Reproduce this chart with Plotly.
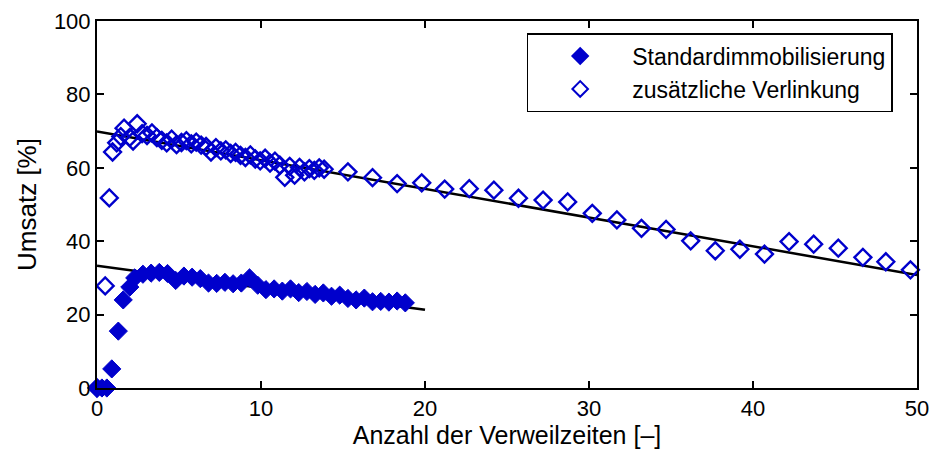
import plotly.graph_objects as go

# Standardimmobilisierung (filled diamonds)
std_x = [0.0, 0.3, 0.6, 0.9, 1.3, 1.6, 2.0, 2.3, 2.8, 3.3, 3.8, 4.3, 4.8, 5.3, 5.8, 6.3, 6.8,
         7.3, 7.8, 8.3, 8.8, 9.3, 9.8, 10.3, 10.8, 11.3, 11.8, 12.3, 12.8, 13.3, 13.8,
         14.3, 14.8, 15.3, 15.8, 16.3, 16.8, 17.3, 17.8, 18.3, 18.8]
std_y = [0.0, 0.0, 0.0, 5.2, 15.5, 24.0, 27.5, 30.0, 31.0, 31.3, 31.5, 31.2, 29.3, 30.5, 30.2,
         29.8, 28.6, 28.5, 28.8, 28.4, 28.6, 30.0, 28.0, 26.8, 27.0, 26.4, 27.0, 26.0, 26.3,
         25.5, 25.9, 25.0, 25.3, 24.4, 24.0, 24.5, 23.5, 23.6, 23.4, 23.7, 23.2]

# zusätzliche Verlinkung (open diamonds)
vl_x = [0.0, 0.5, 0.75, 0.95, 1.2, 1.45, 1.65, 2.0, 2.2, 2.45, 2.75, 3.05, 3.35, 3.65, 3.95,
        4.25, 4.55, 4.85, 5.15, 5.45, 5.75, 6.05, 6.35, 6.65, 6.95, 7.25, 7.55, 7.85, 8.15,
        8.45, 8.75, 9.05, 9.35, 9.65, 9.95, 10.25, 10.55, 10.85, 11.15, 11.45, 11.75, 12.05,
        12.35, 12.65, 12.95, 13.25, 13.55, 13.85,
        15.3, 16.8, 18.3, 19.8, 21.2, 22.7, 24.2, 25.7, 27.2, 28.7, 30.2, 31.7, 33.2, 34.7,
        36.2, 37.7, 39.2, 40.7, 42.2, 43.7, 45.2, 46.7, 48.1, 49.6]
vl_y = [0.0, 27.8, 51.8, 64.3, 66.8, 68.5, 70.8, 68.3, 67.3, 72.0, 69.3, 68.8, 69.5, 68.2, 67.5,
        66.8, 67.8, 66.3, 66.9, 67.4, 66.5, 67.0, 66.2, 65.8, 64.3, 65.5, 64.6, 64.9, 63.9,
        64.2, 63.4, 62.8, 63.5, 62.4, 61.9, 62.6, 61.3, 61.8, 60.7, 57.4, 60.4, 58.0,
        60.1, 58.9, 59.8, 59.3, 60.0, 59.6,
        58.9, 57.3, 55.7, 55.9, 54.2, 54.3, 53.9, 51.7, 51.2, 50.7, 47.6, 45.8, 43.5, 43.2,
        40.1, 37.4, 37.8, 36.5, 39.9, 39.2, 38.1, 35.6, 34.4, 32.2]

# Regression lines (end points)
fit_std_x = [0, 20]
fit_std_y = [33.3, 21.3]
fit_vl_x = [0, 50]
fit_vl_y = [69.9, 30.8]

blue = "#0000CC"
font_family = "Liberation Sans, Arial, Helvetica, sans-serif"

fig = go.Figure()
fig.add_trace(go.Scatter(x=fit_vl_x, y=fit_vl_y, mode="lines", showlegend=False,
                         line=dict(color="black", width=2.5), hoverinfo="skip"))
fig.add_trace(go.Scatter(x=fit_std_x, y=fit_std_y, mode="lines", showlegend=False,
                         line=dict(color="black", width=2.5), hoverinfo="skip"))
fig.add_trace(go.Scatter(x=std_x, y=std_y, mode="markers", name="Standardimmobilisierung",
                         cliponaxis=False,
                         marker=dict(symbol="diamond", size=14, color=blue,
                                     line=dict(color=blue, width=1))))
fig.add_trace(go.Scatter(x=vl_x, y=vl_y, mode="markers", name="zusätzliche Verlinkung",
                         cliponaxis=False,
                         marker=dict(symbol="diamond-open", size=13, color=blue,
                                     line=dict(color=blue, width=2.4))))

axis_common = dict(showline=True, linecolor="black", linewidth=2, mirror="ticks",
                   ticks="inside", ticklen=7, tickwidth=1.5, tickcolor="black",
                   showgrid=False, zeroline=False, automargin=False,
                   ticklabeloverflow="allow",
                   tickfont=dict(family=font_family, size=22, color="black"))

fig.update_layout(
    width=930, height=454,
    margin=dict(l=97, r=13, t=21, b=66),
    paper_bgcolor="white", plot_bgcolor="white",
    font=dict(family=font_family, color="black"),
    xaxis=dict(range=[0, 50], tickvals=[0, 10, 20, 30, 40, 50],
               title=dict(text="Anzahl der Verweilzeiten [–]",
                          font=dict(family=font_family, size=25), standoff=6),
               **axis_common),
    yaxis=dict(range=[0, 100], tickvals=[0, 20, 40, 60, 80, 100],
               title=dict(text="Umsatz [%]",
                          font=dict(family=font_family, size=26), standoff=10),
               **axis_common),
    legend=dict(x=0.524, y=0.967, xanchor="left", yanchor="top",
                bgcolor="white", bordercolor="black", borderwidth=1.5,
                font=dict(family=font_family, size=23, color="black"),
                itemwidth=94, itemsizing="constant", tracegroupgap=0),
)

# remove the browser's default 8 px body margin so the 930x454 figure fills the window
fig.write_html("out.html",
               config={"displayModeBar": False},
               post_script="document.body.style.margin='0';document.body.style.overflow='hidden';")
